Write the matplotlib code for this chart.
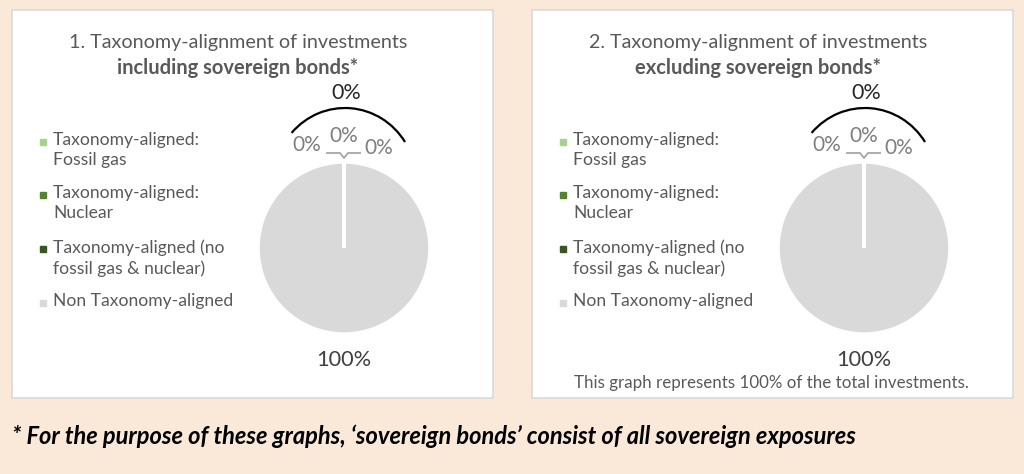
import matplotlib.pyplot as plt
from matplotlib.patches import Rectangle, Arc

plt.rcParams['font.family'] = ['Lato', 'DejaVu Sans']

categories = ['Taxonomy-aligned:\nFossil gas',
              'Taxonomy-aligned:\nNuclear',
              'Taxonomy-aligned (no\nfossil gas & nuclear)',
              'Non Taxonomy-aligned']
colors = ['#a9d18e', '#548235', '#375623', '#d9d9d9']
incl_values = [0, 0, 0, 100]
excl_values = [0, 0, 0, 100]
titles = ['1. Taxonomy-alignment of investments', '2. Taxonomy-alignment of investments']
subtitles = ['including sovereign bonds*', 'excluding sovereign bonds*']
note = 'This graph represents 100% of the total investments.'
footnote = '* For the purpose of these graphs, \u2018sovereign bonds\u2019 consist of all sovereign exposures'

W, H = 1024, 474
fig = plt.figure(figsize=(W / 100, H / 100), dpi=100)
fig.patch.set_facecolor('#fae8d8')
ax = fig.add_axes([0, 0, 1, 1])


def py(y):
    # pixel row (top = 0) -> data y
    return H - y


def panel(x0, values, title, subtitle):
    ax.add_patch(Rectangle((x0, py(398)), 481, 388, facecolor='white',
                           edgecolor='#d9d9d9', lw=1.2, zorder=0))
    cx = x0 + 332
    ax.text(x0 + 226, py(42), title, ha='center', va='center',
            fontsize=14.2, color='#595959')
    ax.text(x0 + 226, py(68), subtitle, ha='center', va='center',
            fontsize=14.5, color='#595959', fontweight='bold')

    wedges, _ = ax.pie(values, colors=colors, startangle=90, counterclock=False,
                       center=(cx, py(248)), radius=86,
                       wedgeprops=dict(edgecolor='white', linewidth=2.5), frame=True)
    # empty slices still show their white edge on top of the big one
    for w, v in zip(wedges, values):
        if v == 0:
            w.set_zorder(3)

    # labels of the three aligned slices
    pct = [f'{v:.0f}%' for v in values]
    ax.text(cx - 37, py(145), pct[0], ha='center', va='center', fontsize=15, color='#7f7f7f')
    ax.text(cx, py(136), pct[1], ha='center', va='center', fontsize=15, color='#7f7f7f')
    ax.text(cx + 35, py(148), pct[2], ha='center', va='center', fontsize=15, color='#7f7f7f')
    ax.plot([cx - 17, cx - 4, cx, cx + 4, cx + 16],
            [py(153), py(153), py(158), py(153), py(153)],
            color='#a6a6a6', lw=1.3)
    ax.text(cx, py(360), pct[3], ha='center', va='center', fontsize=15.7, color='#404040')

    # bracket over the aligned slices with their total
    ax.add_patch(Arc((cx + 1, py(181)), 142, 146, theta1=33, theta2=138,
                     color='black', lw=1.6))
    ax.text(cx + 2, py(93), f'{sum(values[:3]):.0f}%', ha='center', va='center',
            fontsize=15.5, color='#262626')

    ys = [142, 195, 249, 303]
    for lab, col, y in zip(categories, colors, ys):
        ax.plot(x0 + 31, py(y), marker='s', ms=4, color=col, ls='none')
        ax.text(x0 + 41, py(y - 10), lab, ha='left', va='top', fontsize=12.6,
                color='#595959', linespacing=1.33)


panel(12, incl_values, titles[0], subtitles[0])
panel(532, excl_values, titles[1], subtitles[1])
ax.text(771, py(383), note, ha='center', va='center', fontsize=12.2, color='#595959')

ax.text(12, py(436), footnote, ha='left', va='center', fontsize=17,
        fontweight='bold', fontstyle='italic', color='black')

ax.set_xlim(0, W)
ax.set_ylim(0, H)
ax.set_aspect('auto')
ax.axis('off')

fig.savefig('out.png', dpi=100, facecolor=fig.get_facecolor())
